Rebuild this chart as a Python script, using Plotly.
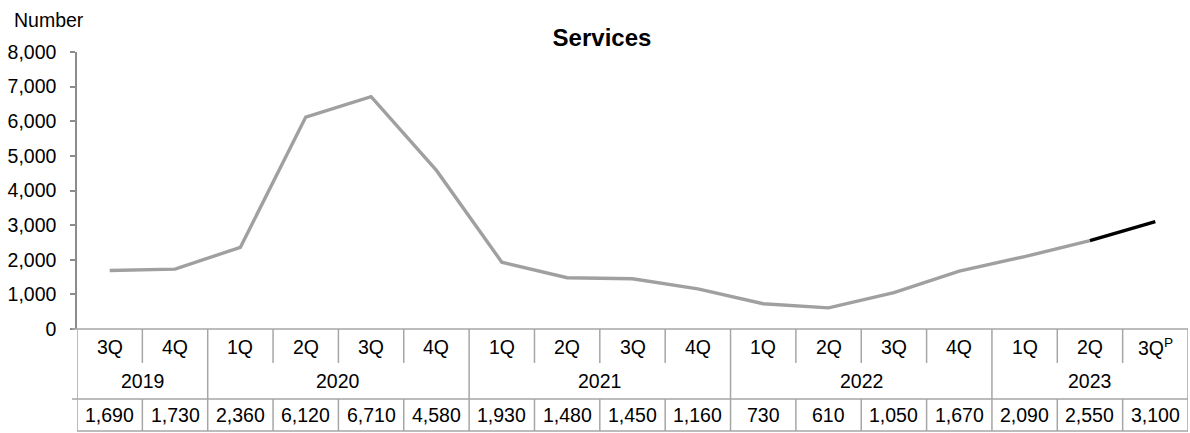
import plotly.graph_objects as go

quarters = ["3Q", "4Q", "1Q", "2Q", "3Q", "4Q", "1Q", "2Q", "3Q", "4Q",
            "1Q", "2Q", "3Q", "4Q", "1Q", "2Q", "3Q<sup>P</sup>"]
years = ["2019", "2020", "2021", "2022", "2023"]
year_spans = [2, 4, 4, 4, 3]
values = [1690, 1730, 2360, 6120, 6710, 4580, 1930, 1480, 1450, 1160,
          730, 610, 1050, 1670, 2090, 2550, 3100]
y_ticks = [0, 1000, 2000, 3000, 4000, 5000, 6000, 7000, 8000]

W, H = 1190, 433
L, R, T, B = 77, 2, 52, 104
plot_h = H - T - B
plot_w = W - L - R
FONT = "Liberation Sans, Arial, sans-serif"
FS = 19.5
LINE_C = "#a6a6a6"

def py(pix):
    return (H - B - pix) / plot_h

def px(pix):
    return (pix - L) / plot_w

idx = list(range(len(values)))
n = len(values)

fig = go.Figure()
fig.add_trace(go.Scatter(x=idx[:n - 1], y=values[:n - 1], mode="lines",
                         line=dict(color="#a0a0a0", width=3.4), hoverinfo="skip"))
fig.add_trace(go.Scatter(x=idx[n - 2:], y=values[n - 2:], mode="lines",
                         line=dict(color="#000000", width=3.4), hoverinfo="skip"))

shapes = []
top, q_bot, y_bot, bot = 329, 363, 399, 431
for yy in [top, y_bot, bot]:
    shapes.append(dict(type="line", xref="paper", yref="paper",
                       x0=px(72) if yy != bot else 0, x1=1, y0=py(yy), y1=py(yy),
                       line=dict(color=LINE_C, width=1.5)))
bounds = [i - 0.5 for i in range(n + 1)]
year_bounds = [-0.5]
acc = -0.5
for s in year_spans:
    acc += s
    year_bounds.append(acc)
for b in bounds:
    top_end = y_bot if b in year_bounds else q_bot
    shapes.append(dict(type="line", xref="x", yref="paper", x0=b, x1=b,
                       y0=py(top), y1=py(top_end), line=dict(color=LINE_C, width=1.5)))
    shapes.append(dict(type="line", xref="x", yref="paper", x0=b, x1=b,
                       y0=py(y_bot), y1=py(bot), line=dict(color=LINE_C, width=1.5)))

tf = dict(size=FS, color="black", family=FONT)
annotations = []
for i, q in enumerate(quarters):
    annotations.append(dict(x=i, y=py(347), xref="x", yref="paper", text=q,
                            yanchor="middle", showarrow=False, font=tf))
    annotations.append(dict(x=i, y=py(415), xref="x", yref="paper", text=f"{values[i]:,}",
                            yanchor="middle", showarrow=False, font=tf))
start = 0
for yr, s in zip(years, year_spans):
    annotations.append(dict(x=start + (s - 1) / 2, y=py(381), xref="x", yref="paper", text=yr,
                            yanchor="middle", showarrow=False, font=tf))
    start += s
annotations.append(dict(x=px(12), y=py(20), xref="paper", yref="paper", text="Number",
                        xanchor="left", yanchor="middle", showarrow=False, font=tf))

fig.update_layout(
    width=W, height=H,
    margin=dict(l=L, r=R, t=T, b=B),
    paper_bgcolor="white", plot_bgcolor="white",
    showlegend=False,
    title=dict(text="<b>Services</b>", x=602 / W, xanchor="center", y=(H - 38) / H,
               yanchor="middle", font=dict(size=24, color="black", family=FONT)),
    xaxis=dict(range=[-0.5, n - 0.5], showticklabels=False, showgrid=False,
               zeroline=False, ticks="", showline=False),
    yaxis=dict(range=[0, 8000], tickvals=y_ticks, tickformat=",d", showgrid=False,
               zeroline=False, showline=True, linecolor="#8c8c8c", linewidth=1.5,
               ticks="outside", ticklen=5, tickcolor="#8c8c8c", tickwidth=1.5,
               ticklabelstandoff=10,
               tickfont=tf),
    shapes=shapes, annotations=annotations,
)
fig.write_html("out.html")
